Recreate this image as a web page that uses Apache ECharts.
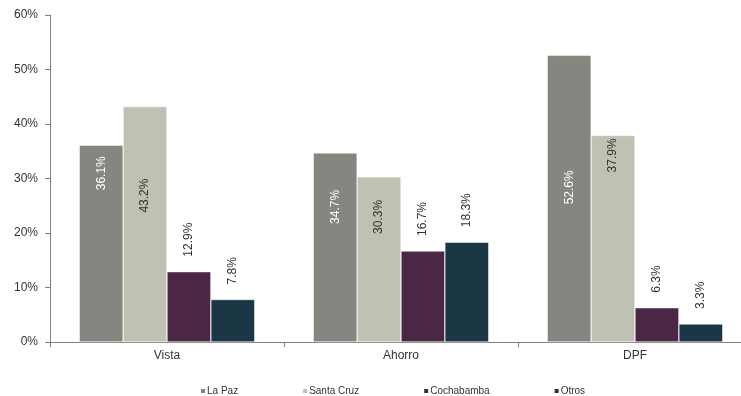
<!DOCTYPE html>
<html><head><meta charset="utf-8">
<script src="https://cdn.jsdelivr.net/npm/echarts@6/dist/echarts.min.js"></script>
<style>html,body{margin:0;padding:0;background:#fff;overflow:hidden;width:741px;height:396px}#c{width:752px;height:396px}</style>
</head><body><div id="c"></div>
<script>
var categories = ['Vista', 'Ahorro', 'DPF'];
var seriesNames = ['La Paz', 'Santa Cruz', 'Cochabamba', 'Otros'];
var laPaz = [36.1, 34.7, 52.6];
var santaCruz = [43.2, 30.3, 37.9];
var cochabamba = [12.9, 16.7, 6.3];
var otros = [7.8, 18.3, 3.3];
var colors = ['#868681', '#bfc1b2', '#4a2744', '#1b3644'];
// label distances from bar top for labels drawn inside bars
var laPazLabelDist = [11, 37, 115];
var santaCruzLabelDist = [72, 23, 3];

var font = 'Liberation Sans, Arial, sans-serif';
function insideData(vals, dists, color) {
  return vals.map(function (v, i) {
    return { value: v, label: { show: true, position: 'insideTop', distance: dists[i], rotate: 90,
      align: 'right', verticalAlign: 'middle', color: color, fontSize: 12, fontFamily: font,
      formatter: function (p) { return p.value.toFixed(1) + '%'; } } };
  });
}
var topLabel = { show: true, position: 'top', distance: 15, rotate: 90, align: 'left', verticalAlign: 'middle',
  color: '#333', fontSize: 12, fontFamily: font,
  formatter: function (p) { return p.value.toFixed(1) + '%'; } };

var chart = echarts.init(document.getElementById('c'));
chart.setOption({
  animation: false,
  color: colors,
  grid: { left: 50, top: 15, right: 0, bottom: 54, containLabel: false },
  legend: {
    left: 199, top: 386, padding: 0, itemWidth: 6, itemHeight: 6, itemGap: 63, icon: 'rect',
    textStyle: { fontSize: 10, color: '#333', fontFamily: font, padding: [0, 0, 0, -4] },
    data: seriesNames
  },
  xAxis: {
    type: 'category', data: categories,
    axisLine: { lineStyle: { color: '#808080', width: 1 } },
    axisTick: { show: true, length: 5, lineStyle: { color: '#808080' } },
    axisLabel: { color: '#333', fontSize: 12, fontFamily: font, margin: 8 }
  },
  yAxis: {
    type: 'value', min: 0, max: 60, interval: 10,
    splitLine: { show: false },
    axisLine: { show: true, lineStyle: { color: '#808080', width: 1 } },
    axisTick: { show: true, length: 5, lineStyle: { color: '#808080' } },
    axisLabel: { color: '#333', fontSize: 12, fontFamily: font, margin: 12, formatter: '{value}%' }
  },
  series: [
    { name: seriesNames[0], type: 'bar', barGap: '0%', barCategoryGap: '25%', data: insideData(laPaz, laPazLabelDist, '#fff'),
      itemStyle: { borderColor: '#fff', borderWidth: 0.5 } },
    { name: seriesNames[1], type: 'bar', data: insideData(santaCruz, santaCruzLabelDist, '#333'),
      itemStyle: { borderColor: '#fff', borderWidth: 0.5 } },
    { name: seriesNames[2], type: 'bar', data: cochabamba, label: topLabel,
      itemStyle: { borderColor: '#fff', borderWidth: 0.5 } },
    { name: seriesNames[3], type: 'bar', data: otros, label: topLabel,
      itemStyle: { borderColor: '#fff', borderWidth: 0.5 } }
  ]
});
</script></body></html>
